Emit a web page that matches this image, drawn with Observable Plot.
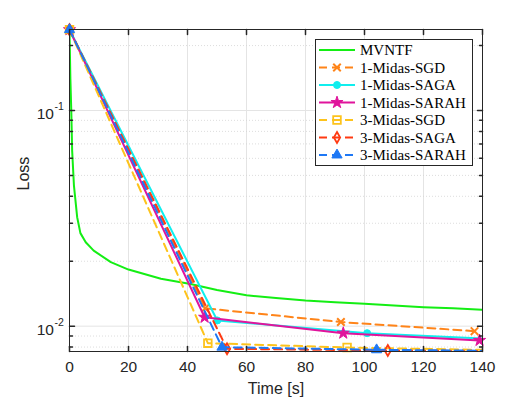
<!DOCTYPE html>
<html><head><meta charset="utf-8">
<script src="https://cdn.jsdelivr.net/npm/d3@7"></script>
<script src="https://cdn.jsdelivr.net/npm/@observablehq/plot@0.6"></script>
<style>body{margin:0;background:#fff}#chart{width:532px;height:399px}</style>
</head><body><div id="chart"></div>
<script>
// ---- data ----
const seriesNames = ["MVNTF","1-Midas-SGD","1-Midas-SAGA","1-Midas-SARAH","3-Midas-SGD","3-Midas-SAGA","3-Midas-SARAH"];
const mvntfTime = [0,0.3,0.6,0.9,1.5,2.6,3.7,5.5,8.2,14,20,31,41,50,60,70,80,90,100,110,120,130,140];
const mvntfLoss = [0.237,0.14,0.1,0.065,0.045,0.032,0.027,0.0245,0.0224,0.0198,0.0183,0.0166,0.0157,0.0147,0.0139,0.0135,0.01315,0.0129,0.0127,0.01248,0.01225,0.0121,0.0119];
const sgd1Time = [0,46,92,137.3];
const sgd1Loss = [0.237,0.0121,0.01045,0.00948];
const saga1Time = [0,50.1,100.9,151];
const saga1Loss = [0.237,0.01063,0.00928,0.00861];
const sarah1Time = [0,45.8,92.8,139];
const sarah1Loss = [0.237,0.0110,0.00928,0.00859];
const sgd3Time = [0,46.9,94.1,141.3];
const sgd3Loss = [0.237,0.00834,0.00796,0.00776];
const saga3Time = [0,53.4,107.9,162];
const saga3Loss = [0.237,0.00785,0.00772,0.00762];
const sarah3Time = [0,51.7,104.1,156];
const sarah3Loss = [0.237,0.00799,0.00777,0.00766];
const xTicks = [0,20,40,60,80,100,120,140];
const yMajorTicks = [0.01,0.1];
const yMinorTicks = [0.008,0.009,0.02,0.03,0.04,0.05,0.06,0.07,0.08,0.09,0.2];
const yTickExp = ["-2","-1"];

// ---- styles ----
const styles = [
  {color:"#14ee14", dash:null, symbol:null},
  {color:"#ff8419", dash:"8,5", symbol:"times", r:3.5, fill:"none", sw:2},
  {color:"#10eeee", dash:null, symbol:"circle", r:3.5, fill:"#10eeee", sw:1},
  {color:"#e0149c", dash:null, symbol:"star", r:3.8, fill:"#e0149c", sw:1},
  {color:"#fdc31c", dash:"8,5", symbol:"square", r:4.3, fill:"none", sw:1.8},
  {color:"#ff3a12", dash:"8,5", symbol:"diamond", r:3.3, fill:"none", sw:1.8},
  {color:"#1e78f5", dash:"8,5", symbol:"triangle", r:3.8, fill:"#1e78f5", sw:1}
];
const times = [mvntfTime,sgd1Time,saga1Time,sarah1Time,sgd3Time,saga3Time,sarah3Time];
const losses = [mvntfLoss,sgd1Loss,saga1Loss,sarah1Loss,sgd3Loss,saga3Loss,sarah3Loss];

const xDomain = [0,140];
const yDomain = [0.00763,0.2374];
const ink = "#262626";
const tickShape = {draw(ctx, l){ctx.moveTo(0,0); ctx.lineTo(0,-l);}};

const marks = [
  Plot.ruleX(xTicks, {stroke:"#e4e4e4", strokeWidth:1}),
  Plot.ruleY(yMinorTicks, {stroke:"#d4d4d4", strokeWidth:0.8, strokeDasharray:"1,2"}),
  Plot.ruleY(yMajorTicks, {stroke:"#e4e4e4", strokeWidth:1})
];
seriesNames.forEach((name,i)=>{
  const st = styles[i];
  const rows = times[i].map((t,j)=>({series:name, t, loss:losses[i][j]}));
  marks.push(Plot.line(rows, {x:"t", y:"loss", stroke:st.color, strokeWidth:2, strokeDasharray:st.dash, clip:true}));
  if (st.symbol) {
    marks.push(Plot.dot(rows.filter(d=>d.t<=140), {x:"t", y:"loss", symbol:()=>st.symbol, r:st.r, fill:st.fill, stroke:st.color, strokeWidth:st.sw}));
  }
});
marks.push(
  Plot.frame({stroke:ink, strokeWidth:1}),
  Plot.vector(xTicks, {x:d=>d, y:()=>yDomain[0], length:5, rotate:0, anchor:"start", shape:tickShape, stroke:ink}),
  Plot.vector(xTicks, {x:d=>d, y:()=>yDomain[1], length:5, rotate:180, anchor:"start", shape:tickShape, stroke:ink}),
  Plot.vector(yMajorTicks, {x:()=>0, y:d=>d, length:5, rotate:90, anchor:"start", shape:tickShape, stroke:ink}),
  Plot.vector(yMajorTicks, {x:()=>140, y:d=>d, length:5, rotate:-90, anchor:"start", shape:tickShape, stroke:ink}),
  Plot.vector(yMinorTicks, {x:()=>0, y:d=>d, length:3, rotate:90, anchor:"start", shape:tickShape, stroke:ink}),
  Plot.vector(yMinorTicks, {x:()=>140, y:d=>d, length:3, rotate:-90, anchor:"start", shape:tickShape, stroke:ink}),
  Plot.text(xTicks, {x:d=>d, y:()=>yDomain[0], dy:16, text:d=>String(d), fontSize:15.5, fill:ink}),
  Plot.text(yMajorTicks, {x:()=>0, y:d=>d, dx:-15.5, dy:4, text:()=>"10", textAnchor:"end", fontSize:15.5, fill:ink}),
  Plot.text(yMajorTicks, {x:()=>0, y:d=>d, dx:-15, dy:-4, text:(d,i)=>yTickExp[i], textAnchor:"start", fontSize:10.5, fill:ink}),
  Plot.text(["Loss"], {frameAnchor:"left", dx:-46, rotate:-90, text:d=>d, fontSize:16, fill:ink}),
  Plot.text(["Time [s]"], {frameAnchor:"bottom", dy:42, text:d=>d, fontSize:16, fill:ink})
);

const chart = Plot.plot({
  width:532, height:399,
  marginLeft:69, marginRight:50, marginTop:29, marginBottom:48,
  style:{fontFamily:"'Liberation Sans', Arial, Helvetica, sans-serif", background:"#fff"},
  x:{domain:xDomain, axis:null},
  y:{type:"log", domain:yDomain, axis:null},
  marks
});
document.getElementById("chart").appendChild(chart);

// ---- legend ----
const svg = d3.select(chart);
const lg = svg.append("g").attr("class","legend").attr("text-anchor","start");
const lx = 315.5, ly = 39.5, lw = 157, lh = 126;
lg.append("rect").attr("x",lx).attr("y",ly).attr("width",lw).attr("height",lh)
  .attr("fill","#fff").attr("stroke",ink).attr("stroke-width",1);
const symbolMap = {times:d3.symbolTimes, circle:d3.symbolCircle, star:d3.symbolStar, square:d3.symbolSquare, diamond:d3.symbolDiamond, triangle:d3.symbolTriangle};
seriesNames.forEach((name,i)=>{
  const st = styles[i];
  const y = 50 + i*17.5;
  lg.append("line").attr("x1",319).attr("x2",355).attr("y1",y).attr("y2",y)
    .attr("stroke",st.color).attr("stroke-width",2).attr("stroke-dasharray",st.dash);
  if (st.symbol) {
    lg.append("path").attr("transform",`translate(337,${y})`)
      .attr("d", d3.symbol(symbolMap[st.symbol], Math.PI*st.r*st.r)())
      .attr("fill", st.fill).attr("stroke", st.color).attr("stroke-width", st.sw);
  }
  lg.append("text").attr("x",360).attr("y",y).attr("dy","0.35em").attr("text-anchor","start")
    .attr("font-family","'Liberation Serif','Times New Roman',serif").attr("font-size",15)
    .attr("fill","#000").text(name);
});
</script>
</body></html>
